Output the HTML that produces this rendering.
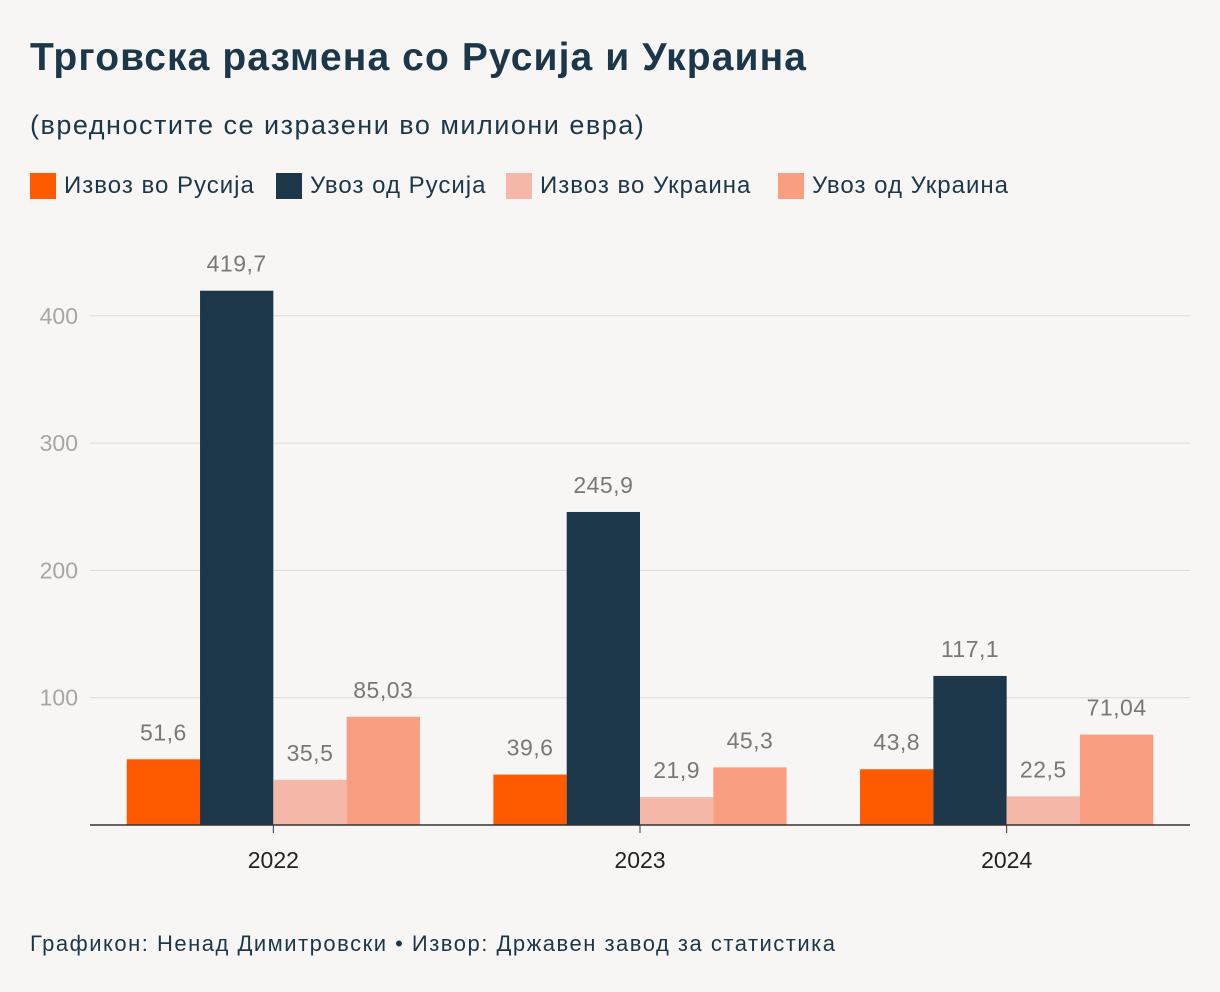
<!DOCTYPE html>
<html><head><meta charset="utf-8"><style>
body{margin:0;background:#f8f6f4;font-family:"Liberation Sans",sans-serif;}
#wrap{position:relative;width:1220px;height:992px;overflow:hidden;background:#f8f6f4;}
.t{position:absolute;color:#1b3749;white-space:nowrap;}
.leg{position:absolute;top:172px;display:flex;align-items:center;font-size:24px;color:#1b3749;letter-spacing:1px;}
.sw{width:26px;height:26px;margin-right:8px;display:inline-block;}
</style></head><body>
<div id="wrap">
<div class="t" style="left:30px;top:36px;font-size:39px;font-weight:bold;letter-spacing:1.1px;">Трговска размена со Русија и Украина</div>
<div class="t" style="left:30px;top:110px;font-size:27px;letter-spacing:1.5px;">(вредностите се изразени во милиони евра)</div>
<div class="leg" style="left:30px"><span class="sw" style="background:#ff5a00"></span>Извоз во Русија</div>
<div class="leg" style="left:276px"><span class="sw" style="background:#1b3749"></span>Увоз од Русија</div>
<div class="leg" style="left:506px"><span class="sw" style="background:#f5b8a8"></span>Извоз во Украина</div>
<div class="leg" style="left:778px"><span class="sw" style="background:#f99e80"></span>Увоз од Украина</div>
<svg id="chart" width="1220" height="992" style="position:absolute;left:0;top:0"></svg>
<div class="t" style="left:30px;top:931px;font-size:22px;letter-spacing:1.5px;">Графикон: Ненад Димитровски • Извор: Државен завод за статистика</div>
</div>
<script>
const categories=["2022","2023","2024"];
const seriesNames=["Извоз во Русија","Увоз од Русија","Извоз во Украина","Увоз од Украина"];
const exportRussia=[51.6,39.6,43.8];
const importRussia=[419.7,245.9,117.1];
const exportUkraine=[35.5,21.9,22.5];
const importUkraine=[85.03,45.3,71.04];
const valueLabels=[["51,6","39,6","43,8"],["419,7","245,9","117,1"],["35,5","21,9","22,5"],["85,03","45,3","71,04"]];
const yTicks=[100,200,300,400];
const colors=["#ff5a00","#1b3749","#f5b8a8","#f99e80"];
const series=[exportRussia,importRussia,exportUkraine,importUkraine];
const svg=document.getElementById('chart');
const NS="http://www.w3.org/2000/svg";
const x0=90,x1=1190,y0=825,pxPer=127.3/100;
const yScale=v=>y0-v*pxPer;
const groupW=(x1-x0)/categories.length;
const barW=73.3;
const xCenter=i=>x0+groupW*(i+0.5);
function mk(tag,attrs){const e=document.createElementNS(NS,tag);for(const k in attrs)e.setAttribute(k,attrs[k]);svg.appendChild(e);return e;}
yTicks.forEach(t=>{
 const g=mk('line',{x1:x0,x2:x1,y1:yScale(t),y2:yScale(t),stroke:'#dcdad8','stroke-width':1});
 
 
 const l=mk('text',{x:78,y:yScale(t)+8,'text-anchor':'end','font-size':23,fill:'#a8a6a4','font-family':'Liberation Sans, sans-serif'});
 l.textContent=t;
 
 
});
categories.forEach((c,i)=>{
 series.forEach((s,j)=>{
  const x=xCenter(i)+(j-2)*barW;
  const r=mk('rect',{x:x,y:yScale(s[i]),width:barW,height:s[i]*pxPer,fill:colors[j]});
  
  
  const t=mk('text',{x:x+barW/2,y:yScale(s[i])-19,'text-anchor':'middle','font-size':23,fill:'#7a7876','font-family':'Liberation Sans, sans-serif','letter-spacing':'0.5'});
  t.textContent=valueLabels[j][i];
  
  
 });
 const tk=mk('line',{x1:xCenter(i),x2:xCenter(i),y1:y0,y2:y0+8,stroke:'#333','stroke-width':1});
 
 
 const l=mk('text',{x:xCenter(i),y:868,'text-anchor':'middle','font-size':23,fill:'#222','font-family':'Liberation Sans, sans-serif'});
 l.textContent=c;
 
 
});
const ax=mk('line',{x1:x0,x2:x1,y1:y0,y2:y0,stroke:'#333','stroke-width':1.5});


</script>
</body></html>
